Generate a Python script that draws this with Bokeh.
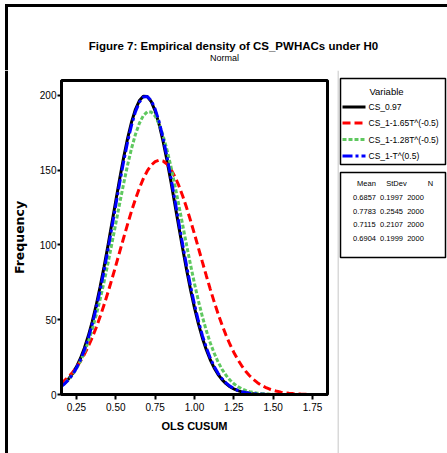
from bokeh.plotting import figure
from bokeh.layouts import column, row
from bokeh.models import Range1d, FixedTicker, NumeralTickFormatter
from bokeh.core.properties import value
from bokeh.embed import file_html
from bokeh.resources import INLINE

# ---------------- data ----------------
x_grid = [0.150, 0.175, 0.200, 0.225, 0.250, 0.275, 0.300, 0.325, 0.350, 0.375,
          0.400, 0.425, 0.450, 0.475, 0.500, 0.525, 0.550, 0.575, 0.600, 0.625,
          0.650, 0.675, 0.700, 0.725, 0.750, 0.775, 0.800, 0.825, 0.850, 0.875,
          0.900, 0.925, 0.950, 0.975, 1.000, 1.025, 1.050, 1.075, 1.100, 1.125,
          1.150, 1.175, 1.200, 1.225, 1.250, 1.275, 1.300, 1.325, 1.350, 1.375,
          1.400, 1.425, 1.450, 1.475, 1.500, 1.525, 1.550, 1.575, 1.600, 1.625,
          1.650, 1.675, 1.700, 1.725]

y_cs_097 = [5.47, 7.59, 10.38, 13.96, 18.49, 24.11, 30.94, 39.09, 48.63, 59.55,
            71.79, 85.21, 99.55, 114.50, 129.65, 144.51, 158.58, 171.32, 182.20, 190.75,
            196.60, 199.48, 199.26, 195.94, 189.68, 180.76, 169.59, 156.63, 142.41, 127.47,
            112.32, 97.44, 83.21, 69.95, 57.90, 47.18, 37.84, 29.88, 23.23, 17.77,
            13.39, 9.93, 7.25, 5.21, 3.69, 2.57, 1.76, 1.19, 0.79, 0.52, 0.33]

y_cs_165 = [7.44, 9.44, 11.86, 14.75, 18.18, 22.18, 26.81, 32.09, 38.04, 44.66,
            51.93, 59.80, 68.21, 77.06, 86.21, 95.52, 104.82, 113.93, 122.64, 130.74,
            138.05, 144.35, 149.50, 153.35, 155.78, 156.74, 156.18, 154.13, 150.65, 145.83,
            139.81, 132.76, 124.84, 116.28, 107.25, 97.98, 88.66, 79.45, 70.51, 61.98,
            53.95, 46.52, 39.72, 33.59, 28.13, 23.34, 19.18, 15.60, 12.57, 10.03,
            7.93, 6.21, 4.82, 3.70, 2.81, 2.12, 1.58, 1.17, 0.85, 0.62,
            0.44, 0.32, 0.22, 0.16]

y_cs_128 = [5.43, 7.40, 9.94, 13.17, 17.20, 22.15, 28.12, 35.20, 43.46, 52.89,
            63.48, 75.12, 87.65, 100.85, 114.40, 127.97, 141.14, 153.50, 164.60, 174.04,
            181.44, 186.52, 189.06, 188.95, 186.21, 180.94, 173.35, 163.77, 152.55, 140.12,
            126.90, 113.31, 99.77, 86.62, 74.15, 62.59, 52.10, 42.75, 34.60, 27.60,
            21.71, 16.84, 12.88, 9.72, 7.22, 5.30, 3.83, 2.73, 1.92, 1.33,
            0.91, 0.61, 0.41, 0.27, 0.17]

y_cs_1t = [5.17, 7.19, 9.85, 13.28, 17.63, 23.04, 29.64, 37.54, 46.82, 57.48,
           69.48, 82.66, 96.84, 111.68, 126.79, 141.72, 155.94, 168.94, 180.17, 189.17,
           195.54, 198.98, 199.34, 196.60, 190.89, 182.47, 171.72, 159.09, 145.10, 130.30,
           115.18, 100.24, 85.88, 72.43, 60.15, 49.17, 39.57, 31.35, 24.46, 18.78,
           14.20, 10.57, 7.74, 5.59, 3.97, 2.77, 1.91, 1.29, 0.86, 0.57,
           0.37, 0.23, 0.15]

series_names = ["CS_0.97", "CS_1-1.65T^(-0.5)", "CS_1-1.28T^(-0.5)", "CS_1-T^(0.5)"]
series_means = ["0.6857", "0.7783", "0.7115", "0.6904"]
series_sds = ["0.1997", "0.2545", "0.2107", "0.1999"]
series_ns = ["2000", "2000", "2000", "2000"]

x_ticks = [0.25, 0.50, 0.75, 1.00, 1.25, 1.50, 1.75]
y_ticks = [0, 50, 100, 150, 200]

title_text = "Figure 7: Empirical density of CS_PWHACs under H0"
subtitle_text = "Normal"
x_label = "OLS CUSUM"
y_label = "Frequency"

# ---------------- styles ----------------
FONT = value("Liberation Sans")
colors = ["black", "#ff0000", "#5fc85f", "#0000ff"]
dashes = ["solid", "8 4", "4 2", "10 3 3 3"]

W, H = 447, 453
TOP_H = 70
ROW_H = H - TOP_H


def blank(width, height, xr, yr):
    f = figure(width=width, height=height, x_range=Range1d(*xr), y_range=Range1d(*yr),
               title=None, output_backend="svg", toolbar_location=None,
               x_axis_type=None, y_axis_type=None, min_border=0,
               outline_line_color=None, background_fill_color="white",
               border_fill_color="white", frame_align=False)
    return f


# ---------- top strip: outer frame + titles ----------
top = blank(W, TOP_H, (0, W), (TOP_H, 0))
top.segment(x0=[4.5, 6], y0=[5, 3.5], x1=[W, 6], y1=[5, TOP_H], line_color="black", line_width=3)
top.text(x=[233], y=[45], text=[title_text], text_font=FONT, text_font_size="11.5px",
         text_font_style="bold", text_align="center", text_baseline="middle", text_color="black")
top.text(x=[224], y=[57], text=[subtitle_text], text_font=FONT, text_font_size="9px",
         text_align="center", text_baseline="middle", text_color="black")

# ---------- left strip: outer frame ----------
left = blank(8, ROW_H, (0, 8), (H, TOP_H))
left.segment(x0=[6], y0=[TOP_H], x1=[6], y1=[H], line_color="black", line_width=3)

# ---------- main plot ----------
p = figure(width=329, height=ROW_H, x_range=Range1d(0.155, 1.845), y_range=Range1d(0, 210),
           title=None, output_backend="svg", toolbar_location=None, frame_align=False,
           min_border_left=53, min_border_right=10, min_border_top=10, min_border_bottom=59,
           background_fill_color="white", border_fill_color="white")
p.grid.visible = False
p.outline_line_color = "black"
p.outline_line_width = 3

series = [y_cs_097, y_cs_165, y_cs_128, y_cs_1t]
for ys, c, d in zip(series, colors, dashes):
    p.line(x_grid[:len(ys)], ys, line_color=c, line_width=3, line_dash=d)

for ax in (p.xaxis[0], p.yaxis[0]):
    ax.axis_line_width = 3
    ax.axis_line_color = "black"
    ax.major_tick_line_width = 2
    ax.major_tick_out = 5
    ax.major_tick_in = 0
    ax.minor_tick_line_color = None
    ax.major_label_text_font = "Liberation Sans"
    ax.major_label_text_font_size = "10px"
    ax.major_label_text_color = "black"
    ax.axis_label_text_font_style = "bold"
    ax.axis_label_text_color = "black"

p.xaxis[0].ticker = FixedTicker(ticks=x_ticks)
p.xaxis[0].formatter = NumeralTickFormatter(format="0.00")
p.xaxis[0].axis_label = x_label
p.xaxis[0].axis_label_text_font = "Liberation Sans"
p.xaxis[0].axis_label_text_font_size = "11px"
p.xaxis[0].major_label_standoff = 3
p.xaxis[0].axis_label_standoff = 6

p.yaxis[0].ticker = FixedTicker(ticks=y_ticks)
p.yaxis[0].axis_label = y_label
p.yaxis[0].axis_label_text_font = "DejaVu Sans"
p.yaxis[0].axis_label_text_font_size = "12.5px"
p.yaxis[0].major_tick_out = 4
p.yaxis[0].major_label_standoff = 1
p.yaxis[0].axis_label_standoff = 10

# ---------- right strip: legend boxes ----------
r = blank(110, ROW_H, (337, 447), (H, TOP_H))
r.segment(x0=[337.5], y0=[TOP_H], x1=[337.5], y1=[H], line_color="#b4b4b4", line_width=1)
r.quad(left=[340, 340], right=[445, 445], top=[78, 172], bottom=[164, 257],
       fill_color=None, line_color="black", line_width=1.5)
r.text(x=[386], y=[91], text=["Variable"], text_font=FONT, text_font_size="9.5px",
       text_align="center", text_baseline="middle", text_color="black")
row_y = [106.5, 122.5, 139, 155.5]
for yy, name, c, d in zip(row_y, series_names, colors, dashes):
    r.segment(x0=[342], y0=[yy], x1=[365], y1=[yy], line_color=c, line_width=3, line_dash=d)
    r.text(x=[368], y=[yy], text=[name], text_font=FONT, text_font_size="8.5px",
           text_align="left", text_baseline="middle", text_color="black")

r.text(x=[366, 396, 430], y=[183, 183, 183], text=["Mean", "StDev", "N"], text_font=FONT,
       text_font_size="7.5px", text_align="center", text_baseline="middle", text_color="black")
stat_y = [197, 210.5, 224, 237.5]
r.text(x=[364] * 4, y=stat_y, text=series_means, text_font=FONT, text_font_size="7.5px",
       text_align="center", text_baseline="middle", text_color="black")
r.text(x=[391] * 4, y=stat_y, text=series_sds, text_font=FONT, text_font_size="7.5px",
       text_align="center", text_baseline="middle", text_color="black")
r.text(x=[415] * 4, y=stat_y, text=series_ns, text_font=FONT, text_font_size="7.5px",
       text_align="center", text_baseline="middle", text_color="black")

layout = column(top, row(left, p, r))

open("out.html", "w").write(file_html(layout, INLINE))
